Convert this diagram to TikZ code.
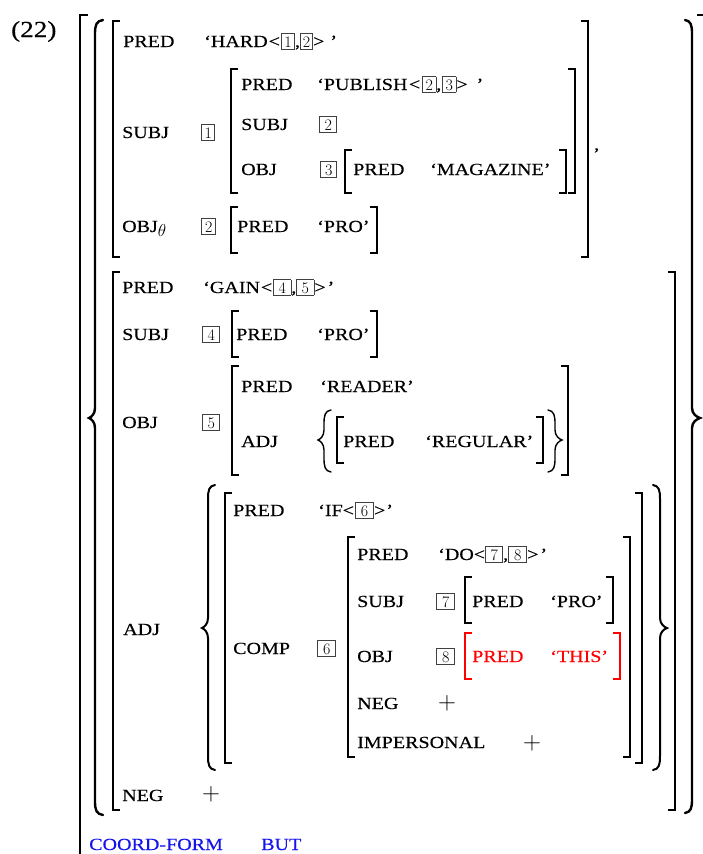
\documentclass[tikz,border=0pt]{standalone}
\usepackage{fontspec}
\newfontfamily\avmfont[FakeStretch=1.18,FakeBold=0.3]{Liberation Serif}
\definecolor{boxgray}{gray}{0.25}
\definecolor{avmblue}{RGB}{20,20,235}
\newcommand\bx[2][14]{{\setlength{\fboxsep}{0pt}\setlength{\fboxrule}{0.75pt}\fcolorbox{boxgray}{white}{\makebox[\dimexpr#1pt-1.5pt\relax]{\rule[-2pt]{0pt}{14.8pt}\normalfont\fontsize{16}{16}\selectfont #2}}}}
\newcommand\lbk[4][]{\draw[brk,#1] ({#2+7},#3) -- (#2,#3) -- (#2,#4) -- ({#2+7},#4);}
\newcommand\rbk[4][]{\draw[brk,#1] ({#2-7},#3) -- (#2,#3) -- (#2,#4) -- ({#2-7},#4);}
\newcommand\curly[7][]{\draw[brc,#1] (#4,#5) .. controls ({#2+0.15*(#4-#2)},{#5+1}) and (#2,{#5+5}) .. (#2,{#5+14}) -- (#2,{#6-10}) .. controls (#2,{#6-4}) and ({#3+0.4*(#2-#3)},{#6-1}) .. (#3,#6) .. controls ({#3+0.4*(#2-#3)},{#6+1}) and (#2,{#6+4}) .. (#2,{#6+10}) -- (#2,{#7-14}) .. controls (#2,{#7-5}) and ({#2+0.15*(#4-#2)},{#7-1}) .. (#4,#7);}
\tikzset{
  avm/.style={anchor=base west, inner sep=0pt, font={\avmfont\fontsize{17}{17}\selectfont}},
  plus/.style={anchor=center, inner sep=0pt, font={\fontsize{26}{26}\selectfont}},
  brk/.style={line width=1.25pt},
  brc/.style={line width=2pt, line cap=round}
}
\begin{document}
\begin{tikzpicture}[x=1pt,y=-1pt]
\useasboundingbox (0,0) rectangle (702,854);
% example number
\node[anchor=base west, inner sep=0pt, font={\avmfont\fontsize{23}{23}\selectfont}] (num) at (11,37) {(22)};
% outermost bracket
\draw[brk] (88,15) -- (80,15) -- (80,870);
\draw[brk] (697,15) -- (704,15) -- (704,870);
% big set braces
\curly[line width=2.4pt]{95}{89}{103}{20}{418}{815}
\curly[line width=2.4pt]{692}{700}{685}{20}{418}{813}
% ===== member 1 =====
\lbk{113}{21}{257}\rbk{588}{21}{257}
\node[avm] (c1) at (594,150) {,};
\node[avm] (a1) at (123,47) {PRED};
\node[avm] (a1v) at (204,47) {‘HARD\kern1pt<\kern1pt\bx[14]{1},\bx[13]{2}>\kern6pt’};
\node[avm] (a2) at (122,138) {SUBJ};
\node[avm] (a2b) at (201,138) {\bx[14]{1}};
\lbk{231}{69}{193}\rbk{575}{69}{193}
\node[avm] (b1) at (241,90) {PRED};
\node[avm] (b1v) at (317,90) {‘PUBLISH\kern1.5pt<\kern2pt\bx[14]{2},\kern1pt\bx[14]{3}>\kern9pt’};
\node[avm] (b2) at (241,130) {SUBJ};
\node[avm] (b2b) at (319,130) {\bx[18]{2}};
\node[avm] (b3) at (241,175) {OBJ};
\node[avm] (b3b) at (320,175) {\bx[17]{3}};
\lbk{345}{150}{193}\rbk{566}{150}{193}
\node[avm] (m1) at (353,175) {PRED};
\node[avm] (m1v) at (430,175) {‘MAGAZINE’};
\node[avm] (a3) at (122,232) {OBJ\raisebox{-4pt}{$\theta$}};
\node[avm] (a3b) at (201,232) {\bx[15]{2}};
\lbk{231}{207}{253}\rbk{377}{207}{253}
\node[avm] (p1) at (237,232) {PRED};
\node[avm] (p1v) at (317,232) {‘PRO’};
% ===== member 2 =====
\lbk{113}{272}{810}\rbk{675}{272}{810}
\node[avm] (g1) at (122,293) {PRED};
\node[avm] (g1v) at (203,293) {‘GAIN\kern1pt<\kern1pt\bx[18]{4},\bx[18]{5}>\kern2pt’};
\node[avm] (g2) at (122,340) {SUBJ};
\node[avm] (g2b) at (202,340) {\bx[18]{4}};
\lbk{232}{311}{357}\rbk{377}{311}{357}
\node[avm] (p2) at (236,340) {PRED};
\node[avm] (p2v) at (317,340) {‘PRO’};
\node[avm] (g3) at (122,428) {OBJ};
\node[avm] (g3b) at (202,428) {\bx[18]{5}};
\lbk{232}{366}{475}\rbk{568}{366}{475}
\node[avm] (r1) at (241,392) {PRED};
\node[avm] (r1v) at (320,392) {‘READER’};
\node[avm] (r2) at (241,447) {ADJ};
\curly[line width=1.4pt]{324}{318}{331}{410}{440}{472}
\curly[line width=1.4pt]{555}{562}{548}{410}{440}{472}
\lbk{337}{417}{463}\rbk{543}{417}{463}
\node[avm] (q1) at (343,447) {PRED};
\node[avm] (q1v) at (425,447) {‘REGULAR’};
\node[avm] (g4) at (123,635) {ADJ};
\curly[line width=2pt]{208}{202}{215}{485}{628}{770}
\curly[line width=2pt]{660}{667}{653}{485}{628}{770}
\lbk{225}{493}{763}\rbk{642}{493}{763}
\node[avm] (i1) at (233,516) {PRED};
\node[avm] (i1v) at (318,516) {‘IF<\kern1pt\bx[19]{6}>\kern1pt’};
\node[avm] (i2) at (233,654) {COMP};
\node[avm] (i2b) at (317,654) {\bx[19]{6}};
\lbk{348}{537}{757}\rbk{630}{537}{757}
\node[avm] (d1) at (357,560) {PRED};
\node[avm] (d1v) at (438,560) {‘DO<\bx[18]{7},\bx[19]{8}>\kern2pt’};
\node[avm] (d2) at (357,607) {SUBJ};
\node[avm] (d2b) at (436,607) {\bx[19]{7}};
\lbk{465}{577}{623}\rbk{613}{577}{623}
\node[avm] (p3) at (472,607) {PRED};
\node[avm] (p3v) at (550,607) {‘PRO’};
\node[avm] (d3) at (357,662) {OBJ};
\node[avm] (d3b) at (436,662) {\bx[19]{8}};
\lbk[red]{465}{633}{679}\rbk[red]{620}{633}{679}
\node[avm, text=red] (t1) at (472,662) {PRED};
\node[avm, text=red] (t1v) at (550,662) {‘THIS’};
\node[avm] (d4) at (357,709) {NEG};
\node[plus] (d4v) at (447,703) {$+$};
\node[avm] (d5) at (357,748) {IMPERSONAL};
\node[plus] (d5v) at (532,743) {$+$};
\node[avm] (g5) at (122,801) {NEG};
\node[plus] (g5v) at (211,794) {$+$};
% ===== coordination =====
\node[avm, text=avmblue] (cf) at (89,850) {COORD-FORM};
\node[avm, text=avmblue] (cfv) at (261,850) {BUT};
\end{tikzpicture}
\end{document}
